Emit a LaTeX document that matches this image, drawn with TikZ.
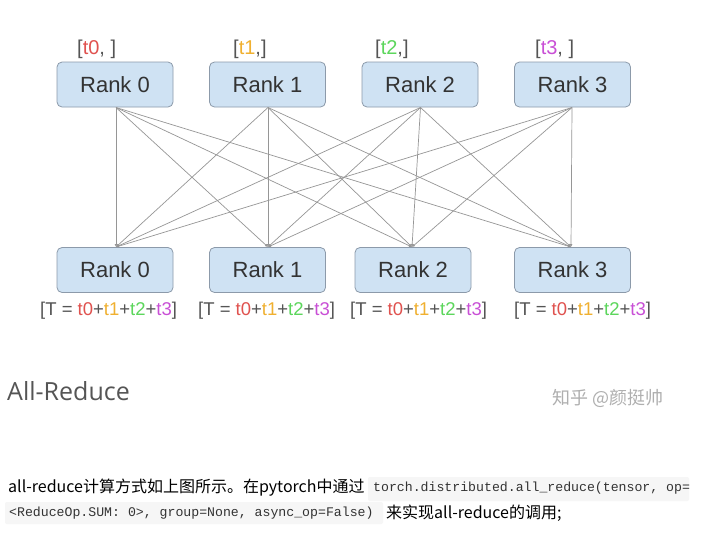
\documentclass[tikz,border=0pt]{standalone}
\usepackage{fontspec}
\setmainfont{Liberation Sans}
\newfontfamily\cjk{Noto Sans CJK SC}
\newfontfamily\opens{Open Sans}
\newfontfamily\codefont{Liberation Mono}
\usetikzlibrary{arrows.meta}
\definecolor{boxfill}{RGB}{207,226,243}
\definecolor{boxline}{RGB}{140,154,170}
\definecolor{txtdark}{RGB}{51,51,51}
\definecolor{brk}{RGB}{85,85,85}
\definecolor{czero}{RGB}{224,82,79}
\definecolor{cone}{RGB}{240,176,48}
\definecolor{ctwo}{RGB}{92,214,92}
\definecolor{cthree}{RGB}{201,79,214}
\definecolor{wire}{RGB}{150,150,150}
\definecolor{codebg}{RGB}{246,246,246}
\definecolor{titlegray}{RGB}{85,85,85}
\definecolor{wmgray}{RGB}{175,175,175}
\newcommand{\tz}{\textcolor{czero}{t0}}
\newcommand{\tone}{\textcolor{cone}{t1}}
\newcommand{\ttwo}{\textcolor{ctwo}{t2}}
\newcommand{\tthree}{\textcolor{cthree}{t3}}
\begin{document}
\begin{tikzpicture}[x=1pt,y=-1pt,
  rankbox/.style={draw=boxline, line width=0.8pt, fill=boxfill, rounded corners=5pt,
    minimum width=116pt, minimum height=45pt, inner sep=0pt,
    font=\fontsize{22}{26}\selectfont, text=txtdark},
  toplabel/.style={anchor=west, inner sep=0pt, font=\fontsize{20}{24}\selectfont, text=brk},
  sumlabel/.style={anchor=west, inner sep=0pt, font=\fontsize{18.5}{22}\selectfont, text=brk},
  wireline/.style={draw=wire, line width=0.7pt, -{Latex[length=3pt,width=3pt]}},
  codebox/.style={fill=codebg, draw=none, rounded corners=2pt},
  bodytext/.style={anchor=west, inner sep=0pt, font=\cjk\fontsize{16}{19}\selectfont, text=black},
  codetext/.style={anchor=west, inner sep=0pt, font=\codefont\fontsize{13.2}{16}\selectfont, text=txtdark}]
\useasboundingbox (0,0) rectangle (719,558);
\fill[white] (0,0) rectangle (719,558);

% top ranks
\node[rankbox] (t0) at (115,84.5) {Rank 0};
\node[rankbox] (t1) at (267.5,84.5) {Rank 1};
\node[rankbox] (t2) at (420,84.5) {Rank 2};
\node[rankbox] (t3) at (572.5,84.5) {Rank 3};
% bottom ranks
\node[rankbox] (b0) at (115,270) {Rank 0};
\node[rankbox] (b1) at (267.5,270) {Rank 1};
\node[rankbox] (b2) at (413,270) {Rank 2};
\node[rankbox] (b3) at (572.5,270) {Rank 3};

% top labels
\node[toplabel] (l0) at (77,49) {[\tz, ]};
\node[toplabel] (l1) at (233,49) {[\tone,]};
\node[toplabel] (l2) at (375,49) {[\ttwo,]};
\node[toplabel] (l3) at (535,49) {[\tthree, ]};

% bottom labels
\node[sumlabel] (s0) at (40,311) {[T = \tz+\tone+\ttwo+\tthree]};
\node[sumlabel] (s1) at (198,311) {[T = \tz+\tone+\ttwo+\tthree]};
\node[sumlabel] (s2) at (350,311) {[T = \tz+\tone+\ttwo+\tthree]};
\node[sumlabel] (s3) at (514,311) {[T = \tz+\tone+\ttwo+\tthree]};

% anchors
\coordinate (ta0) at (116,107.5);
\coordinate (ta1) at (268,107.5);
\coordinate (ta2) at (420.5,107.5);
\coordinate (ta3) at (572,107.5);
\coordinate (ba0) at (116,247);
\coordinate (ba1) at (268,247);
\coordinate (ba2) at (412,247);
\coordinate (ba3) at (571,247);

\foreach \i in {0,1,2,3}{
  \foreach \j in {0,1,2,3}{
    \draw[wireline] (ta\i) -- (ba\j);
  }
}

% title and watermark
\node[anchor=west, inner sep=0pt, font=\opens\fontsize{25}{30}\selectfont, text=titlegray] (title) at (7,391) {All-Reduce};
\node[anchor=west, inner sep=0pt, font=\cjk\fontsize{18}{22}\selectfont, text=wmgray] (wm) at (552,398) {知乎 @颜挺帅};

% code backgrounds
\fill[codebox] (368,477) rectangle (689,501);
\fill[codebox] (5,502) rectangle (383,524);

% body text
\node[bodytext] (p1) at (8,488) {all-reduce计算方式如上图所示。在pytorch中通过};
\node[codetext] (c1) at (373,488) {torch.distributed.all\_reduce(tensor, op=};
\node[codetext] (c2) at (9,513) {<ReduceOp.SUM: 0>, group=None, async\_op=False)};
\node[bodytext] (p2) at (386,513) {来实现all-reduce的调用;};
\end{tikzpicture}
\end{document}
